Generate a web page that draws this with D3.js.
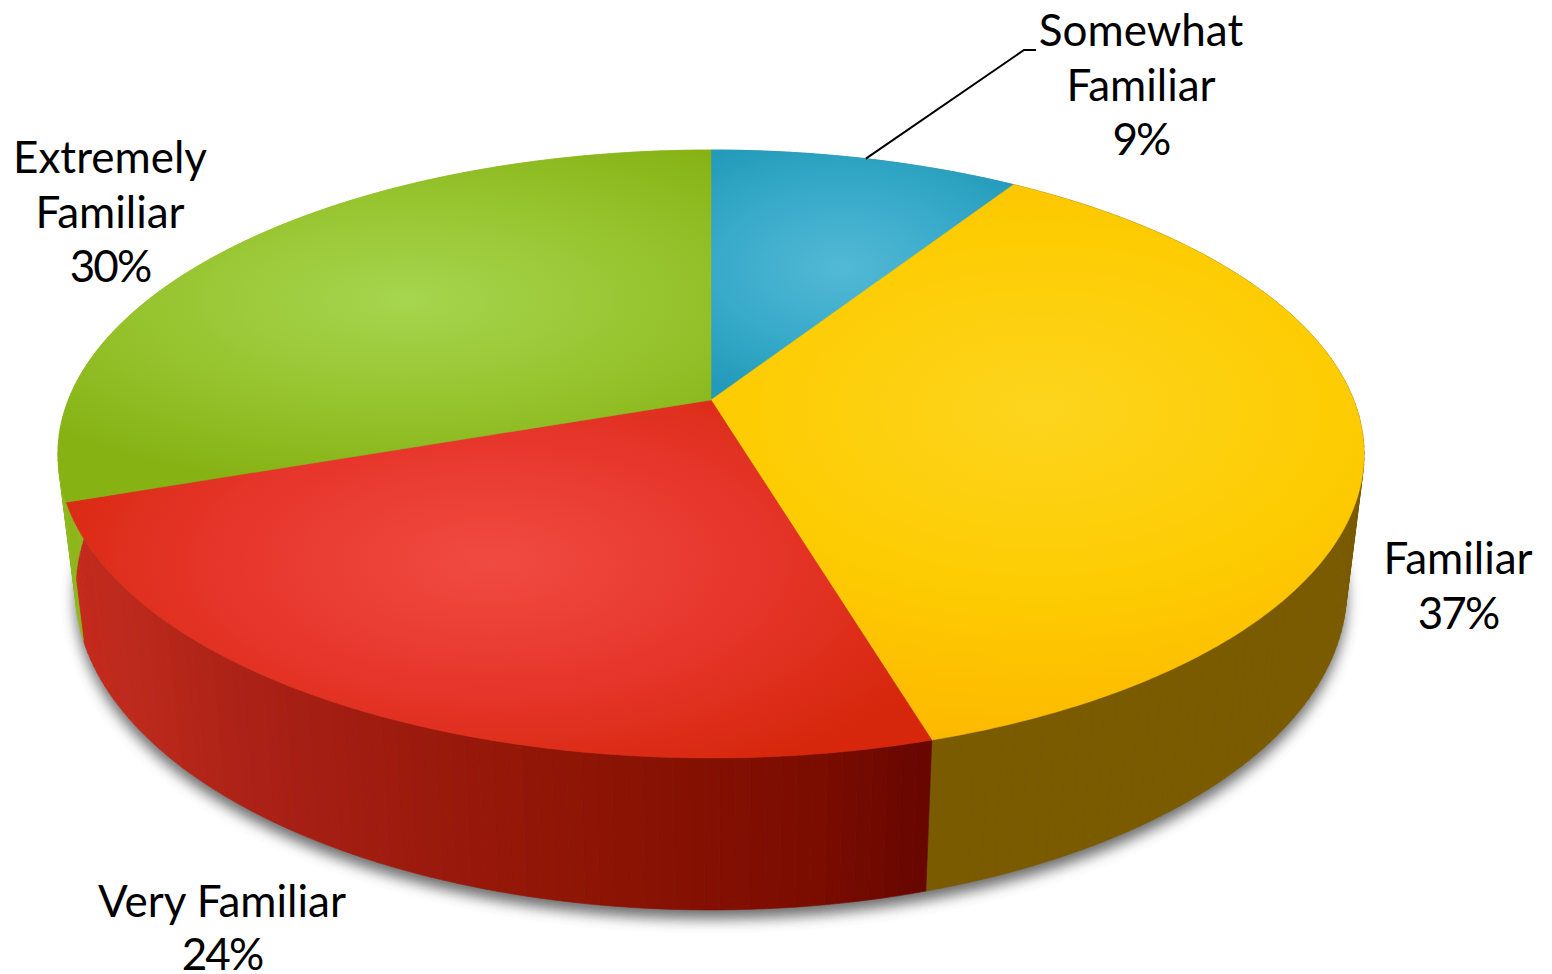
<!DOCTYPE html>
<html><head><meta charset="utf-8">
<script src="https://cdn.jsdelivr.net/npm/d3@7"></script>
<style>html,body{margin:0;padding:0;background:#fff}svg{display:block}text{font-family:Lato,sans-serif;font-size:44px;fill:#000;text-anchor:middle}</style>
</head><body><svg id="c" width="1552" height="974"></svg>
<script>
const categories=["Somewhat Familiar","Familiar","Very Familiar","Extremely Familiar"];
const percentLabels=[9,37,24,30];
const drawnShares=[9.1,36.3,24.3,30.3];

const svg=d3.select("#c"),defs=svg.append("defs");
const slices=d3.pie().sort(null).value(d=>d)(drawnShares);
const persp=-0.1776;
const project=(a,x0,y0,ax,ay)=>{const u=Math.sin(a),v=-Math.cos(a),w=1+persp*v;return [x0+ax*u/w,y0+ay*v/w];};
const top_=a=>project(a,711,400,642.7,294.4);
const bot=a=>project(a,711,533,625.5,310);
const arcPts=(f,a0,a1)=>{const n=Math.max(2,Math.ceil((a1-a0)/0.01));return d3.range(n+1).map(i=>f(a0+(a1-a0)*i/n));};
const line=d3.line();

const faceStyle=[
 {c:[842,268],r:[230,140],s:["#52b9d5","#38aaca","#229ab9"]},
 {c:[1040,410],r:[560,330],s:["#fdd51e","#fdcc02","#fdb900"]},
 {c:[490,562],r:[500,240],s:["#f04b42","#e6352a","#d6270c"]},
 {c:[405,300],r:[480,190],s:["#a6d54f","#96c42e","#86b214"]}];
const sideColor=[
 d3.scaleLinear().domain([0,6.3]).range(["#1d7f9a","#1d7f9a"]),
 d3.scaleLinear().domain([0,6.3]).range(["#7a5b00","#7a5b00"]),
 d3.scaleLinear().domain([2.85,3.0,3.32,3.8,4.1,4.4]).range(["#660600","#7a0c00","#8f1505","#ab2116","#bd2a1c","#c8291a"]),
 d3.scaleLinear().domain([0,6.3]).range(["#8fb91f","#8fb91f"])];

const blur=defs.append("filter").attr("id","sh").attr("x","-10%").attr("y","-10%").attr("width","120%").attr("height","130%");
blur.append("feGaussianBlur").attr("stdDeviation",7);
slices.forEach((d,i)=>{
 const st=faceStyle[i];
 const g=defs.append("radialGradient").attr("id","f"+i).attr("gradientUnits","userSpaceOnUse")
  .attr("cx",0).attr("cy",0).attr("r",1)
  .attr("gradientTransform",`translate(${st.c[0]},${st.c[1]}) scale(${st.r[0]},${st.r[1]})`);
 st.s.forEach((c,k)=>g.append("stop").attr("offset",[0,0.55,1][k]).attr("stop-color",c));
});

// soft shadow under the drum
svg.append("path").attr("d",line(arcPts(bot,0,2*Math.PI))+"Z")
 .attr("transform","translate(0,9)").attr("fill","#4a4a4a").attr("filter","url(#sh)").attr("opacity",.8);

// side walls, as narrow vertical strips
slices.forEach((d,i)=>{
 const n=Math.ceil((d.endAngle-d.startAngle)/0.02);
 const g=svg.append("g");
 d3.range(n).forEach(k=>{
  const a0=d.startAngle+(d.endAngle-d.startAngle)*k/n,a1=d.startAngle+(d.endAngle-d.startAngle)*(k+1)/n;
  const c=sideColor[i]((a0+a1)/2);
  g.append("path").attr("d",line([top_(a0),top_(a1),bot(a1),bot(a0)])+"Z").attr("fill",c).attr("stroke",c).attr("stroke-width",.6);
 });
});

// top faces
slices.forEach((d,i)=>{
 svg.append("path").attr("d",line([[711,400],...arcPts(top_,d.startAngle,d.endAngle)])+"Z")
  .attr("fill",`url(#f${i})`).attr("stroke",`url(#f${i})`).attr("stroke-width",.5);
});

// leader from the middle of the first slice's rim
svg.append("path").attr("d",line([top_((slices[0].startAngle+slices[0].endAngle)/2),[1024,50],[1036,50]]))
 .attr("fill","none").attr("stroke","#000").attr("stroke-width",2);

// labels
const labelSpec=[
 {x:1141,y:46,step:54.5,lines:["Somewhat","Familiar"]},
 {x:1458,y:574,step:54.5,lines:["Familiar"]},
 {x:222,y:917,step:53,lines:["Very Familiar"]},
 {x:110,y:173,step:54.5,lines:["Extremely","Familiar"]}];
labelSpec.forEach((l,i)=>{
 const t=svg.append("text").attr("aria-label",categories[i]);
 l.lines.forEach((s,k)=>t.append("tspan").attr("x",l.x).attr("y",l.y+k*l.step).text(s));
 t.append("tspan").attr("x",l.x).attr("y",l.y+l.lines.length*l.step).attr("letter-spacing","-2px").text(percentLabels[i]+"%");
});
</script></body></html>
